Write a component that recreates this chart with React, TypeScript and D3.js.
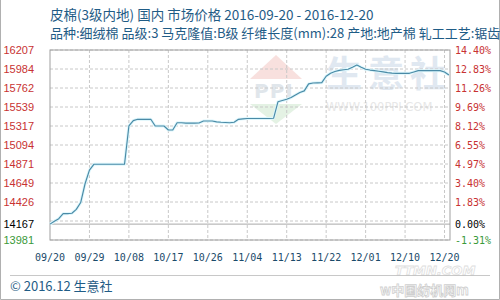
import React from "react";
import * as d3 from "d3";

const titleLine1 = "皮棉(3级内地) 国内 市场价格 2016-09-20 - 2016-12-20";
const titleLine2 = "品种:细绒棉 品级:3 马克隆值:B级 纤维长度(mm):28 产地:地产棉 轧工工艺:锯齿";
const footer = "© 2016.12 生意社";

const basePrice = 14167;
const yMin = 13981;
const yMax = 16207;
const leftTicks = ["16207", "15984", "15762", "15539", "15317", "15094", "14871", "14649", "14426", "14167", "13981"];
const rightTicks = ["14.40%", "12.83%", "11.26%", "9.69%", "8.12%", "6.55%", "4.97%", "3.40%", "1.83%", "0.00%", "-1.31%"];
const xTickLabels = ["09/20", "09/29", "10/08", "10/17", "10/26", "11/04", "11/13", "11/22", "12/01", "12/10", "12/20"];
const xTickIndex = [0, 9, 18, 27, 36, 45, 54, 63, 72, 81, 90];

const prices = [
  14167, 14200, 14230, 14290, 14290, 14295, 14340, 14420, 14640, 14800,
  14868, 14868, 14868, 14868, 14868, 14868, 14868, 14868, 15317, 15380,
  15395, 15395, 15395, 15395, 15317, 15317, 15317, 15270, 15270, 15355,
  15355, 15350, 15350, 15350, 15352, 15375, 15375, 15375, 15365, 15360,
  15358, 15355, 15360, 15395, 15400, 15405, 15405, 15405, 15405, 15405,
  15405, 15407, 15600, 15615, 15630, 15650, 15680, 15710, 15728, 15810,
  15820, 15822, 15824, 15900, 15935, 15955, 15968, 15975, 15981, 16005,
  16031, 16005, 15981, 15972, 15966, 15958, 15950, 15942, 15936, 15934,
  15934, 15934, 15934, 15950, 15965, 15965, 15965, 15965, 15965, 15965,
  15950, 15914,
];

const W = 500;
const H = 300;
const L = 50, R = 450, T = 50, B = 240;

export default function App() {
  const x = d3.scaleLinear().domain([0, 91.25]).range([L, R]);
  const y = d3.scaleLinear().domain([yMin, yMax]).range([B, T]);
  const gridVals = d3.range(11).map((i) => yMax - (i * (yMax - yMin)) / 10);
  const line = d3
    .line<number>()
    .x((_, i) => x(i))
    .y((d) => y(d));
  const path = line(prices) || "";
  const labelColor = (i: number) => (i === 9 ? "#000000" : i === 10 ? "#3a9a3a" : "#c83232");
  const labelY = (i: number) => (i === 9 ? y(basePrice) : y(gridVals[i]));

  return (
    <svg
      width={W}
      height={H}
      style={{ position: "absolute", left: 0, top: 0, background: "#fff" }}
      xmlns="http://www.w3.org/2000/svg"
    >
      <rect x={0} y={0} width={W} height={H} fill="#fff" />
      <path d={`M0.5,0 V299.5 H499.5 V0`} fill="none" stroke="#b0b0b0" />
      <text x={50} y={19.5} fontFamily="'Noto Sans CJK SC', sans-serif" fontSize={13.5} fill="#1f5c86">
        {titleLine1}
      </text>
      <text x={50} y={38} fontFamily="'Noto Sans CJK SC', sans-serif" fontSize={13} fill="#1f5c86">
        {titleLine2}
      </text>

      {/* watermark logo */}
      <g opacity={0.55}>
        <polygon points="276,55 302,79 250,79" fill="#f4c8c4" />
        <text x={254} y={98} fontFamily="'DejaVu Sans', sans-serif" fontSize={20} fontWeight="bold" fill="#c8d2dc" letterSpacing={1}>
          PPI
        </text>
        <polygon points="250,104 302,104 276,124" fill="#cfe9cf" />
        <text x={326} y={87} fontFamily="'Noto Sans CJK SC', sans-serif" fontSize={36} fontWeight="bold" fill="#c8d6e6" letterSpacing={6}>
          生意社
        </text>
        <text x={326} y={111} fontFamily="'DejaVu Sans', sans-serif" fontSize={11.5} fill="#d4d4d4">
          WWW.100PPI.COM
        </text>
      </g>

      {/* grid */}
      {gridVals.map((v, i) => (
        <line key={"h" + i} x1={L} x2={R} y1={y(v)} y2={y(v)} stroke="#c8c8c8" strokeDasharray="3,2" />
      ))}
      {xTickIndex.slice(1).map((d, i) => (
        <line key={"v" + i} x1={x(d)} x2={x(d)} y1={T} y2={B} stroke="#c8c8c8" strokeDasharray="3,2" />
      ))}
      <line x1={L} x2={R} y1={y(basePrice)} y2={y(basePrice)} stroke="#a8a8a8" />
      <rect x={L} y={T} width={R - L} height={B - T} fill="none" stroke="#a0a0a0" />

      {/* series */}
      <path d={path} fill="none" stroke="#dcf6fc" strokeWidth={3} strokeLinejoin="round" />
      <path d={path} fill="none" stroke="#4a8aa6" strokeWidth={1.15} strokeLinejoin="round" />

      {leftTicks.map((t, i) => (
        <text key={"l" + i} x={34} y={labelY(i) + 4} textAnchor="end" fontFamily="'Liberation Sans', Arial, sans-serif" fontSize={11} fill={labelColor(i)}>
          {t}
        </text>
      ))}
      {rightTicks.map((t, i) => (
        <text key={"r" + i} x={455} y={labelY(i) + 4} fontFamily="'DejaVu Sans Mono', monospace" fontSize={10} fill={labelColor(i)}>
          {t}
        </text>
      ))}
      {xTickLabels.map((t, i) => (
        <text key={"x" + i} x={x(xTickIndex[i])} y={261} textAnchor="middle" fontFamily="'DejaVu Sans Mono', monospace" fontSize={10} fill="#1a4a6a">
          {t}
        </text>
      ))}

      <line x1={10} x2={490} y1={275.5} y2={275.5} stroke="#c8c8c8" />
      <text x={10} y={291} fontFamily="'Noto Sans CJK SC', sans-serif" fontSize={13} fill="#1f5c86">
        {footer}
      </text>
      <g opacity={0.5}>
        <text x={395} y={275} fontFamily="'DejaVu Sans', sans-serif" fontStyle="italic" fontWeight="bold" fontSize={13} fill="#ffffff" stroke="#c0c0c0" strokeWidth={0.8}>
          TTMN.COM
        </text>
        <text x={380} y={295} fontFamily="'Noto Sans CJK SC', sans-serif" fontWeight="bold" fontSize={13} fill="#ffffff" stroke="#a0a0a0" strokeWidth={0.8}>
          w中国纺机网m
        </text>
      </g>
    </svg>
  );
}
